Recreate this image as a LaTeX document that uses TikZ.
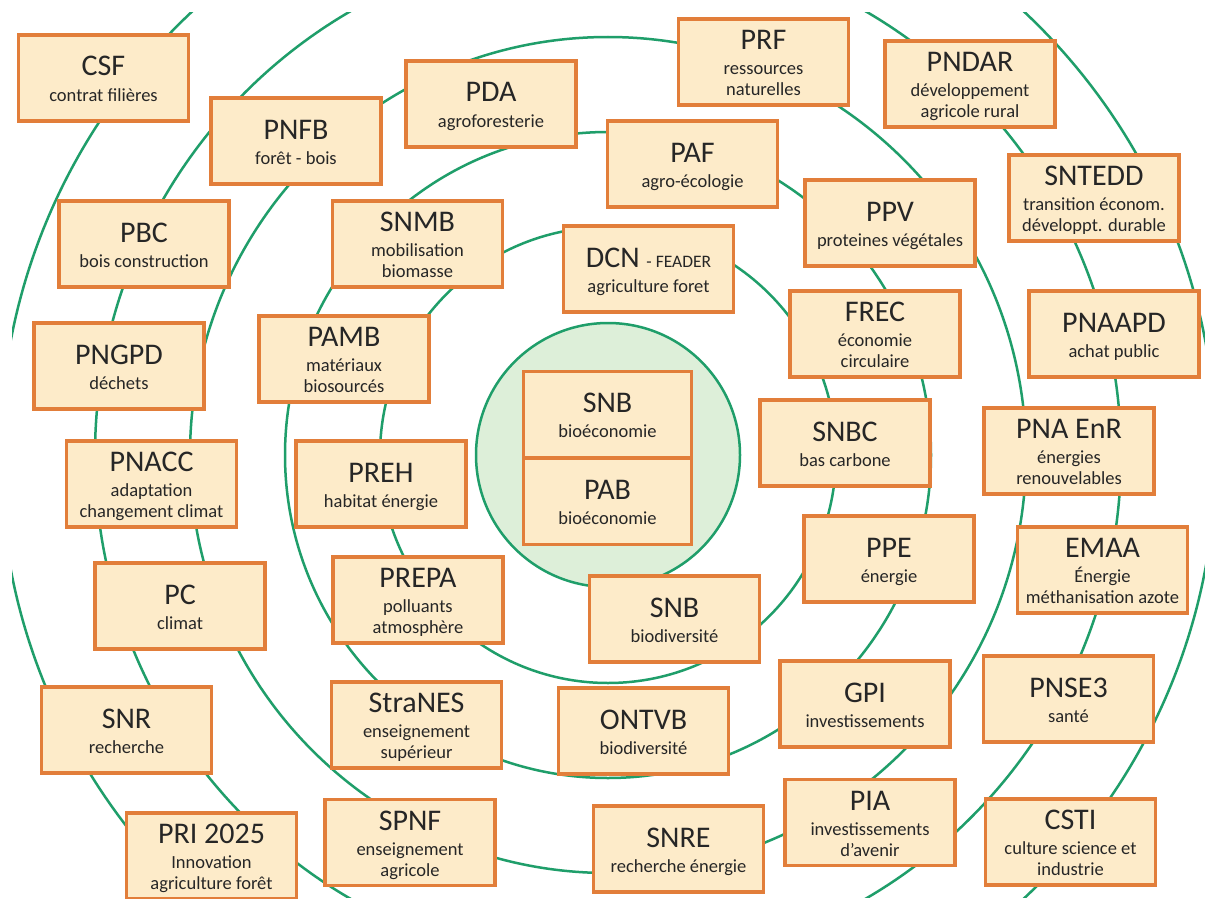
\documentclass[tikz,border=0pt]{standalone}
\usepackage{fontspec}
\setmainfont{Carlito}
\definecolor{ring}{HTML}{1F9E6A}
\definecolor{core}{HTML}{DDEFD9}
\definecolor{boxfill}{HTML}{FDEBC9}
\definecolor{boxline}{HTML}{E27E3A}
\definecolor{txt}{HTML}{262626}
\tikzset{
  ringline/.style={draw=ring, line width=2.5pt},
  pbox/.style={rectangle, draw=boxline, fill=boxfill, line width=3.5pt,
    minimum width=170pt, minimum height=86pt, inner sep=0pt, align=center,
    text=txt, font=\fontsize{18.5}{21}\selectfont},
  corebox/.style={pbox, minimum width=168pt, minimum height=86.5pt},
  corering/.style={circle, ringline, fill=core, minimum size=264pt, inner sep=0pt}
}
\newcommand\ttl[1]{\rule{0pt}{25pt}{\fontsize{30}{30}\selectfont #1}\\[4pt]}
\newcommand\lst{\rule[-4pt]{0pt}{4pt}}
\begin{document}
\begin{tikzpicture}[x=1pt,y=-1pt]
\useasboundingbox (0,0) rectangle (1205,899);
\fill[white] (0,0) rectangle (1205,899);
\coordinate (c) at (608,455);
\begin{scope}
  \clip (12,13) rectangle (1205,897);
  \foreach \r in {228,323,418,513,608} \draw[ringline] (c) circle[radius=\r pt];
\end{scope}
\node[corering] (core) at (c) {};

\node[pbox] (csf) at (103.5,78) {\ttl{CSF}contrat filières\lst};
\node[pbox] (pnfb) at (296,141) {\ttl{PNFB}forêt - bois\lst};
\node[pbox] (pda) at (491,104) {\ttl{PDA}agroforesterie\lst};
\node[pbox] (prf) at (763.5,62) {\ttl{PRF}ressources\\naturelles\lst};
\node[pbox] (pndar) at (970,84) {\ttl{PNDAR}développement\\agricole rural\lst};
\node[pbox] (paf) at (692.5,164) {\ttl{PAF}agro-écologie\lst};
\node[pbox] (sntedd) at (1094,198) {\ttl{SNTEDD}transition économ.\\développt. durable\lst};
\node[pbox] (pbc) at (144,244) {\ttl{PBC}bois construction\lst};
\node[pbox] (snmb) at (417.5,244) {\ttl{SNMB}mobilisation\\biomasse\lst};
\node[pbox] (dcn) at (648.5,269) {\ttl{DCN {\fontsize{17.5}{17.5}\selectfont - FEADER}}agriculture foret\lst};
\node[pbox] (ppv) at (890,223) {\ttl{PPV}proteines végétales\lst};
\node[pbox] (frec) at (875,334) {\ttl{FREC}économie\\circulaire\lst};
\node[pbox] (pnaapd) at (1114,334) {\ttl{PNAAPD}achat public\lst};
\node[pbox] (pngpd) at (119,366) {\ttl{PNGPD}déchets\lst};
\node[pbox] (pamb) at (344,359) {\ttl{PAMB}matériaux\\biosourcés\lst};
\node[corebox] (snbeco) at (607.5,414.75) {\ttl{SNB}bioéconomie\lst};
\node[corebox] (pab) at (607.5,501.25) {\ttl{PAB}bioéconomie\lst};
\node[pbox] (snbc) at (845,443) {\ttl{SNBC}bas carbone\lst};
\node[pbox] (pnaenr) at (1069,451) {\ttl{PNA EnR}énergies\\renouvelables\lst};
\node[pbox] (pnacc) at (151.5,484) {\ttl{PNACC}adaptation\\changement climat\lst};
\node[pbox] (preh) at (381,484) {\ttl{PREH}habitat énergie\lst};
\node[pbox] (ppe) at (889,559) {\ttl{PPE}énergie\lst};
\node[pbox] (emaa) at (1102.5,570) {\ttl{EMAA}Énergie\\méthanisation azote\lst};
\node[pbox] (pc) at (180,606) {\ttl{PC}climat\lst};
\node[pbox] (prepa) at (418,600) {\ttl{PREPA}polluants\\atmosphère\lst};
\node[pbox] (snbbio) at (674.5,619) {\ttl{SNB}biodiversité\lst};
\node[pbox] (gpi) at (865,704) {\ttl{GPI}investissements\lst};
\node[pbox] (pnse) at (1068.5,699) {\ttl{PNSE3}santé\lst};
\node[pbox] (snr) at (126.5,730) {\ttl{SNR}recherche\lst};
\node[pbox] (stranes) at (416.5,725) {\ttl{StraNES}enseignement\\supérieur\lst};
\node[pbox] (ontvb) at (643.5,731) {\ttl{ONTVB}biodiversité\lst};
\node[pbox] (pia) at (870,822.5) {\ttl{PIA}investissements\\d'avenir\lst};
\node[pbox] (csti) at (1070.5,842) {\ttl{CSTI}culture science et\\industrie\lst};
\node[pbox] (pri) at (211.5,856) {\ttl{PRI 2025}Innovation\\agriculture forêt\lst};
\node[pbox] (spnf) at (410,842.5) {\ttl{SPNF}enseignement\\agricole\lst};
\node[pbox] (snre) at (678.5,849) {\ttl{SNRE}recherche énergie\lst};
\end{tikzpicture}
\end{document}
